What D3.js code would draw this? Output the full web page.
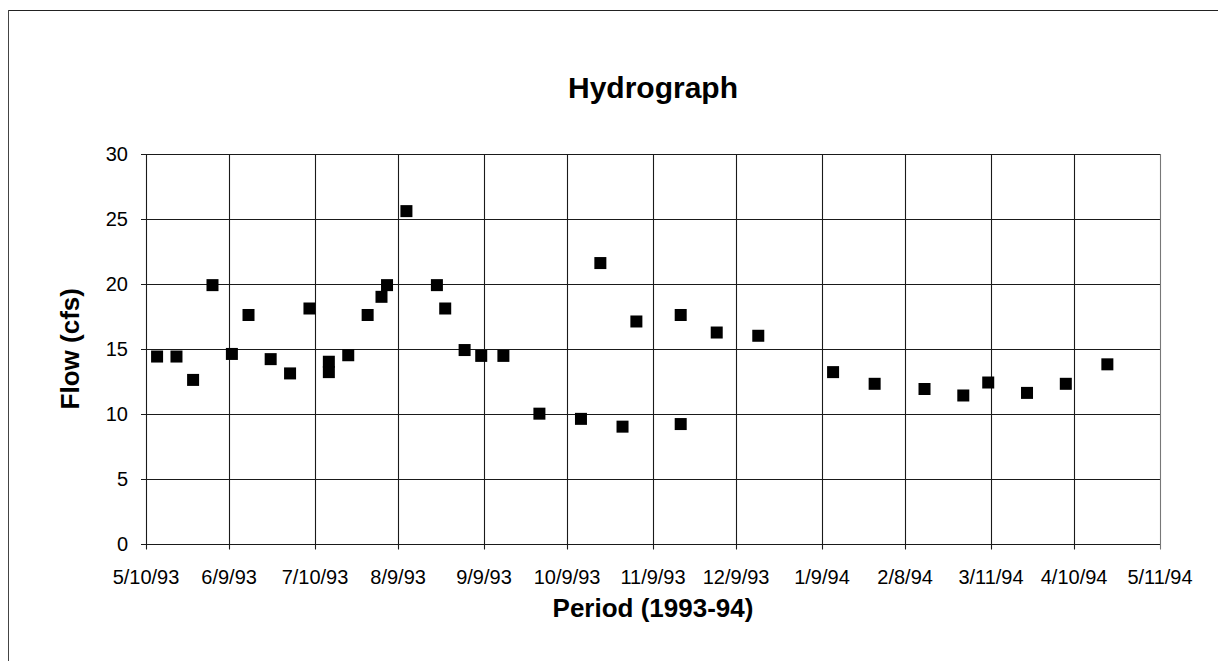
<!DOCTYPE html>
<html>
<head>
<meta charset="utf-8">
<script src="https://cdn.jsdelivr.net/npm/d3@7"></script>
<style>
  html, body { margin: 0; padding: 0; background: #fff; }
  svg { display: block; }
  text { font-family: "Liberation Sans", Arial, sans-serif; fill: #000; }
</style>
</head>
<body>
<script>
// ---- Data ----
const sampleDates = [
  "5/14/93","5/21/93","5/27/93","6/3/93","6/10/93","6/16/93","6/24/93","7/1/93",
  "7/8/93","7/15/93","7/15/93","7/22/93","7/29/93","8/3/93","8/5/93","8/12/93",
  "8/23/93","8/26/93","9/2/93","9/8/93","9/16/93","9/29/93","10/14/93","10/21/93",
  "10/29/93","11/3/93","11/19/93","11/19/93","12/2/93","12/17/93","1/13/94","1/28/94",
  "2/15/94","3/1/94","3/10/94","3/24/94","4/7/94","4/22/94"
];
const flowValues = [
  14.4, 14.4, 12.6, 19.9, 14.6, 17.6, 14.2, 13.1,
  18.1, 14.0, 13.2, 14.5, 17.6, 19.0, 19.9, 25.6,
  19.9, 18.1, 14.9, 14.45, 14.45, 10.0, 9.6, 21.6,
  9.0, 17.1, 17.6, 9.2, 16.25, 16.0, 13.2, 12.3,
  11.9, 11.4, 12.4, 11.6, 12.3, 13.8
];
const xTickLabels = [
  "5/10/93","6/9/93","7/10/93","8/9/93","9/9/93","10/9/93","11/9/93",
  "12/9/93","1/9/94","2/8/94","3/11/94","4/10/94","5/11/94"
];
const yTickValues = [0, 5, 10, 15, 20, 25, 30];
const chartTitle = "Hydrograph";
const xTitle = "Period (1993-94)";
const yTitle = "Flow (cfs)";

// ---- Layout ----
const W = 1218, H = 661;
const plot = { left: 146, right: 1160, top: 154, bottom: 543.5 };

const parse = d3.timeParse("%m/%d/%y");
const xTickDates = xTickLabels.map(parse);
const data = sampleDates.map((d, i) => ({ date: parse(d), flow: flowValues[i] }));

const svg = d3.select("body").append("svg").attr("width", W).attr("height", H);

// outer frame (top and left edges visible)
svg.append("line").attr("x1", 8).attr("x2", W).attr("y1", 10.5).attr("y2", 10.5)
  .attr("stroke", "#222").attr("stroke-width", 1.2);
svg.append("line").attr("x1", 8.5).attr("x2", 8.5).attr("y1", 10).attr("y2", H)
  .attr("stroke", "#444").attr("stroke-width", 1);

const x = d3.scaleTime()
  .domain([xTickDates[0], xTickDates[xTickDates.length - 1]])
  .range([plot.left, plot.right]);
const y = d3.scaleLinear().domain([0, 30]).range([plot.bottom, plot.top]);

// horizontal gridlines
svg.append("g").selectAll("line").data(yTickValues).join("line")
  .attr("x1", plot.left - 5).attr("x2", plot.right)
  .attr("y1", d => Math.round(y(d)) + 0.5).attr("y2", d => Math.round(y(d)) + 0.5)
  .attr("stroke", "#1a1a1a").attr("stroke-width", 1.1);

// vertical gridlines
svg.append("g").selectAll("line").data(xTickDates).join("line")
  .attr("x1", d => Math.round(x(d)) + 0.5).attr("x2", d => Math.round(x(d)) + 0.5)
  .attr("y1", plot.top).attr("y2", plot.bottom + 6)
  .attr("stroke", (d, i) => i === xTickDates.length - 1 ? "#777" : "#1a1a1a")
  .attr("stroke-width", 1.1);

// y axis labels
svg.append("g").selectAll("text").data(yTickValues).join("text")
  .attr("x", 128).attr("y", d => y(d))
  .attr("dy", "0.36em")
  .attr("text-anchor", "end")
  .attr("font-size", 20)
  .text(d => d);

// x axis labels
svg.append("g").selectAll("text").data(xTickDates).join("text")
  .attr("x", d => x(d)).attr("y", 584)
  .attr("text-anchor", "middle")
  .attr("font-size", 20)
  .text((d, i) => xTickLabels[i]);

// points (square markers)
const s = 12;
svg.append("g").selectAll("rect").data(data).join("rect")
  .attr("x", d => x(d.date) - s / 2)
  .attr("y", d => y(d.flow) - s / 2)
  .attr("width", s).attr("height", s)
  .attr("fill", "#000");

// titles
svg.append("text")
  .attr("x", (plot.left + plot.right) / 2).attr("y", 98)
  .attr("text-anchor", "middle")
  .attr("font-size", 30).attr("font-weight", "bold")
  .text(chartTitle);

svg.append("text")
  .attr("x", (plot.left + plot.right) / 2).attr("y", 617)
  .attr("text-anchor", "middle")
  .attr("font-size", 26).attr("font-weight", "bold")
  .text(xTitle);

svg.append("text")
  .attr("transform", `translate(79, ${(plot.top + plot.bottom) / 2}) rotate(-90)`)
  .attr("text-anchor", "middle")
  .attr("font-size", 26).attr("font-weight", "bold")
  .text(yTitle);
</script>
</body>
</html>
